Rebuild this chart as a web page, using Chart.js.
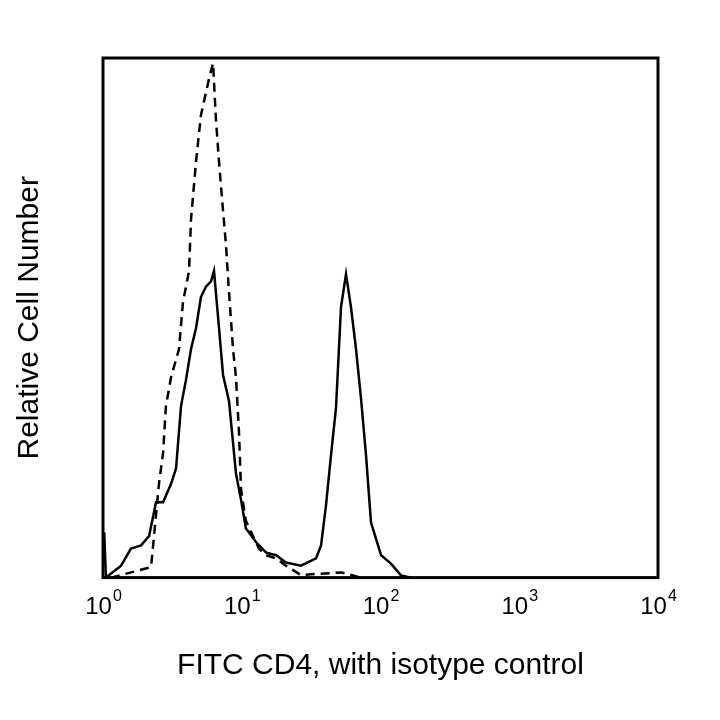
<!DOCTYPE html>
<html><head><script src="https://cdn.jsdelivr.net/npm/chart.js"></script>
<style>body{margin:0;background:#fff}#w{width:720px;height:720px}</style></head>
<body><div id="w"><canvas id="c"></canvas></div>
<script>
const solidX=[1.02,1.05,1.35,1.59,1.88,2.15,2.41,2.71,3.09,3.36,3.65,3.96,4.31,4.68,5.08,5.52,6.00,6.31,6.86,7.33,8.09,9.09,9.88,10.7,12.7,15.0,17.7,20.8,26.7,34.3,37.3,40.5,44.0,47.8,51.9,56.4,61.3,66.6,72.3,78.6,85.4,92.8,101,119,141,166];
const solidY=[8.7,0,2.3,5.6,6.2,8,14.5,14.5,18,21,33,38,44,48,54,56,57,59,48,39,34,20,15,9.5,6.8,4.8,4.3,2.9,2.3,3.7,6.2,14,23.6,32.7,52,58.4,52,44,34.6,23.6,10.6,7.5,4.3,2.7,0.4,0];
const dashX=[1.14,2.22,2.53,2.71,2.84,3.09,3.53,3.77,4.17,4.31,4.68,5.08,5.81,6.21,6.52,6.86,7.33,7.70,8.09,8.65,9.09,9.55,9.88,10.7,11.7,13.3,15.0,17.7,20.8,26.7,51.9,72.3];
const dashY=[0,2,18,24,33,38.5,44,53,59,69,80,89,96,99,88,80,70.6,64,55,44,38.5,28,17,11,8.7,5.6,4.3,3.7,2.3,0.5,1,0];
const tickVals=[1,10,100,1000,10000];
const tickExps=['0','1','2','3','4'];
const pts=(xs,ys)=>xs.map((x,i)=>({x,y:ys[i]}));
const deco={id:'b',afterDraw(c){const a=c.chartArea,g=c.ctx;g.save();g.lineWidth=3;g.strokeStyle='#000';g.strokeRect(a.left,a.top,a.right-a.left,a.bottom-a.top);
g.fillStyle='#000';g.textBaseline='alphabetic';
const sx=c.scales.x;tickVals.forEach((v,i)=>{const px=sx.getPixelForValue(v);g.font='24px "Liberation Sans"';const w1=g.measureText('10').width;g.font='16px "Liberation Sans"';const w2=g.measureText(tickExps[i]).width;const x0=px-(w1+w2)/2;g.font='24px "Liberation Sans"';g.fillText('10',x0,a.bottom+36);g.font='16px "Liberation Sans"';g.fillText(tickExps[i],x0+w1+1,a.bottom+23);});
g.restore();}};
new Chart(document.getElementById('c'),{type:'line',
data:{datasets:[
{data:pts(solidX,solidY),borderColor:'#000',borderWidth:2.5,pointRadius:0,tension:0},
{data:pts(dashX,dashY),borderColor:'#000',borderWidth:2.5,borderDash:[9,6],pointRadius:0,tension:0}]},
options:{responsive:true,maintainAspectRatio:false,animation:false,
layout:{padding:{left:8,right:62,top:58,bottom:32}},
plugins:{legend:{display:false},tooltip:{enabled:false}},
scales:{
x:{type:'logarithmic',min:1,max:10000,grid:{display:false,drawTicks:false},border:{display:false},
afterBuildTicks(s){s.ticks=tickVals.map(v=>({value:v}));},
ticks:{color:'rgba(0,0,0,0)',font:{family:'Liberation Sans',size:22},padding:12,maxRotation:0,autoSkip:false,callback:(v)=>'10'},
title:{display:true,text:'FITC CD4, with isotype control',color:'#000',font:{family:'Liberation Sans',size:30},padding:{top:20}}},
y:{min:0,max:100,grid:{display:false,drawTicks:false},border:{display:false},ticks:{display:false},
title:{display:true,text:'Relative Cell Number',color:'#000',font:{family:'Liberation Sans',size:30},padding:{bottom:55}}}}},
plugins:[deco]});
</script></body></html>
